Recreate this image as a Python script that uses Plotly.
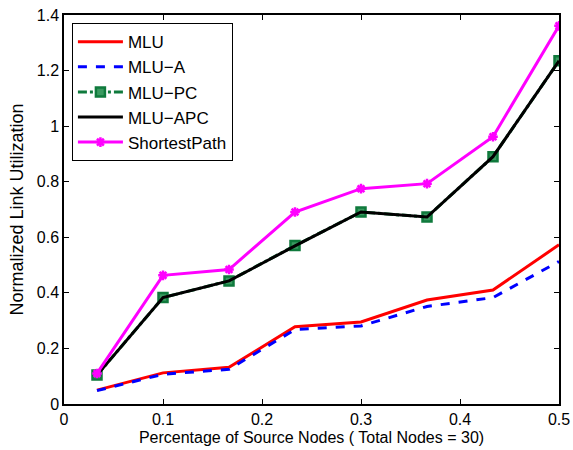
import plotly.graph_objects as go

x_vals = [1/30, 3/30, 5/30, 7/30, 9/30, 11/30, 13/30, 15/30]
mlu = [0.050, 0.112, 0.132, 0.278, 0.295, 0.374, 0.410, 0.573]
mlu_a = [0.048, 0.107, 0.125, 0.268, 0.281, 0.351, 0.383, 0.513]
mlu_pc = [0.104, 0.383, 0.443, 0.570, 0.691, 0.673, 0.890, 1.235]
mlu_apc = [0.104, 0.383, 0.443, 0.569, 0.691, 0.673, 0.890, 1.235]
shortest = [0.110, 0.463, 0.484, 0.691, 0.775, 0.793, 0.962, 1.361]

x_ticks = [0, 0.1, 0.2, 0.3, 0.4, 0.5]
x_tick_labels = ["0", "0.1", "0.2", "0.3", "0.4", "0.5"]
y_ticks = [0, 0.2, 0.4, 0.6, 0.8, 1.0, 1.2, 1.4]
y_tick_labels = ["0", "0.2", "0.4", "0.6", "0.8", "1", "1.2", "1.4"]

green = "#0f7a3c"
font_family = "Liberation Sans, Arial, Helvetica"

fig = go.Figure()
fig.add_trace(go.Scatter(x=x_vals, y=mlu, name="MLU", mode="lines",
                         line=dict(color="#ff0000", width=3)))
fig.add_trace(go.Scatter(x=x_vals, y=mlu_a, name="MLU−A", mode="lines",
                         line=dict(color="#0000ff", width=3, dash="dash")))
fig.add_trace(go.Scatter(x=x_vals, y=mlu_pc, name="MLU−PC", mode="lines+markers",
                         line=dict(color=green, width=3, dash="dashdot"),
                         marker=dict(symbol="square", size=9, color="#3a9a60",
                                     line=dict(color=green, width=2.5))))
fig.add_trace(go.Scatter(x=x_vals, y=mlu_apc, name="MLU−APC", mode="lines",
                         line=dict(color="#000000", width=3)))
fig.add_trace(go.Scatter(x=x_vals, y=shortest, name="ShortestPath", mode="lines+markers",
                         line=dict(color="#ff00ff", width=3),
                         marker=dict(symbol="asterisk-open", size=8,
                                     line=dict(color="#ff00ff", width=2.5))))

axis_common = dict(
    showline=True, linecolor="black", linewidth=1.5, mirror="ticks",
    ticks="inside", ticklen=5, tickcolor="black", tickwidth=1,
    showgrid=False, zeroline=False, automargin=False,
    tickfont=dict(family=font_family, size=16, color="black"),
)

fig.update_xaxes(range=[0, 0.5], tickvals=x_ticks, ticktext=x_tick_labels,
                 title=dict(text="Percentage of Source Nodes ( Total Nodes = 30)",
                            font=dict(family=font_family, size=16, color="black"),
                            standoff=5),
                 **axis_common)
fig.update_yaxes(range=[0, 1.4], tickvals=y_ticks, ticktext=y_tick_labels,
                 title=dict(text="Normalized Link Utilization",
                            font=dict(family=font_family, size=18, color="black"),
                            standoff=8),
                 **axis_common)

fig.update_layout(
    width=573, height=450,
    margin=dict(l=64, r=14, t=15, b=46),
    paper_bgcolor="white", plot_bgcolor="white",
    showlegend=True,
    legend=dict(x=0.016, y=0.979, xanchor="left", yanchor="top",
                bgcolor="white", bordercolor="black", borderwidth=1,
                font=dict(family=font_family, size=17, color="black"),
                itemwidth=45, tracegroupgap=0),
)

fig.write_html("out.html",
               config={"displayModeBar": False},
               post_script="document.body.style.margin='0';document.body.style.overflow='hidden';")
